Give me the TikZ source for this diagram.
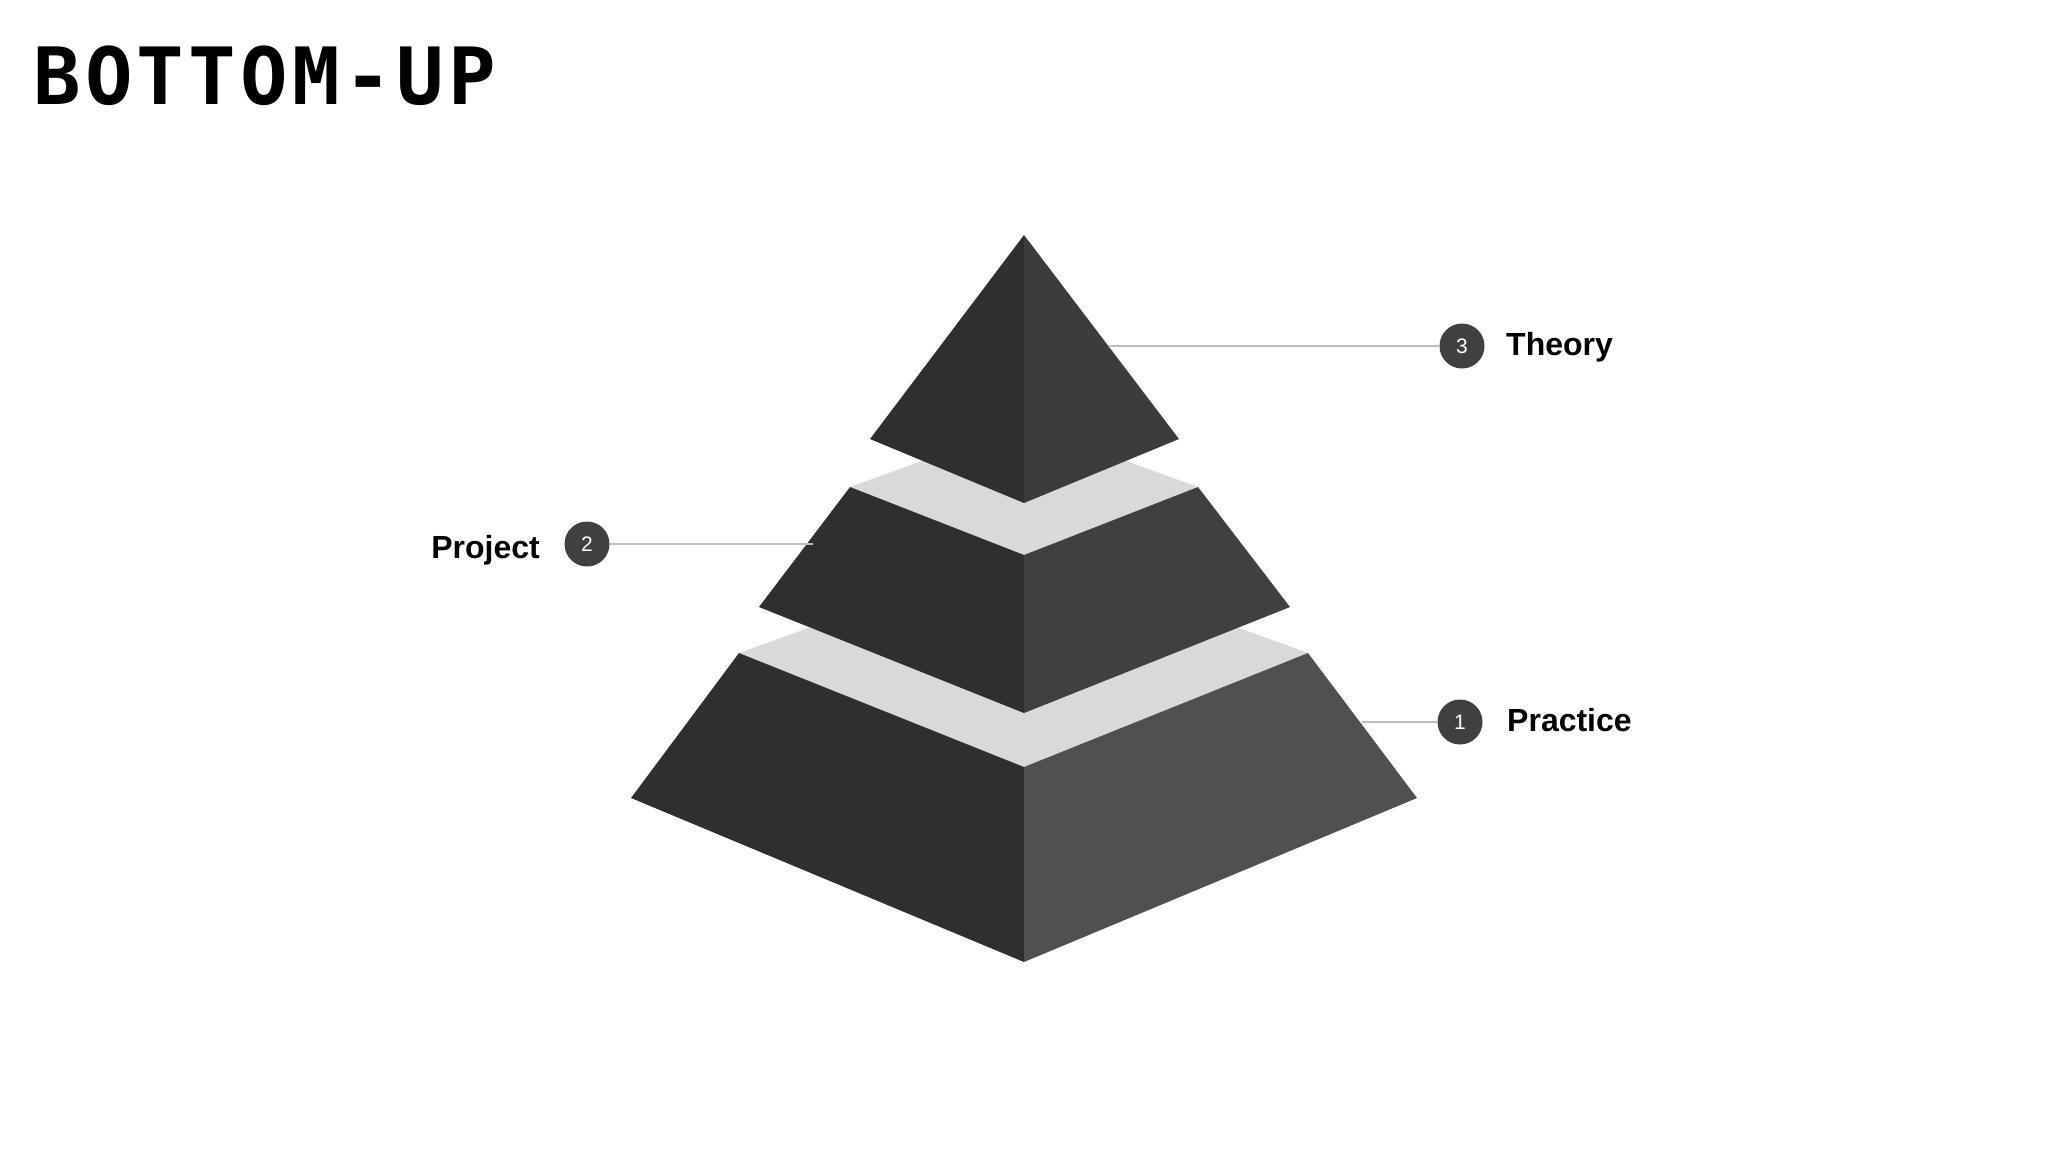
\documentclass[tikz,border=0pt]{standalone}
\usepackage{fontspec}
\setmainfont{Liberation Sans}
\newfontfamily\titlefont[LetterSpace=5.5]{DejaVu Sans Mono}
\usepackage{tikz}
\usetikzlibrary{positioning}

\definecolor{darkface}{HTML}{2F2F2F}
\definecolor{topright}{HTML}{3C3C3C}
\definecolor{midright}{HTML}{404040}
\definecolor{lowright}{HTML}{505050}
\definecolor{band}{HTML}{D9D9D9}
\definecolor{badge}{HTML}{404040}
\definecolor{leader}{HTML}{BDBDBD}

\begin{document}
\begin{tikzpicture}[x=1pt, y=-1pt,
    numdot/.style={circle, fill=badge, text=white, minimum size=45pt, inner sep=0pt,
      font=\fontsize{21}{21}\selectfont},
    tag/.style={font=\fontsize{32}{32}\selectfont\bfseries, inner sep=0pt},
    leadline/.style={draw=leader, line width=2pt}]
      \useasboundingbox (0, 0) rectangle (2048, 1152);
      \node[anchor=base west, inner sep=0pt, font=\fontsize{79}{79}\selectfont\titlefont\bfseries] (title) at (33, 104) {BOTTOM-UP};
      % bottom tier
      \fill[band] (739, 653) -- (1024, 550) -- (1308, 653) -- (1024, 767) -- cycle;
      \fill[darkface] (739, 653) -- (1024, 767) -- (1024, 962) -- (631, 798) -- cycle;
      \fill[lowright] (1024, 767) -- (1308, 653) -- (1417, 798) -- (1024, 962) -- cycle;
      % middle tier
      \fill[band] (850, 487) -- (1024, 424) -- (1198, 487) -- (1024, 555) -- cycle;
      \fill[darkface] (850, 487) -- (1024, 555) -- (1024, 713) -- (759, 607) -- cycle;
      \fill[midright] (1024, 555) -- (1198, 487) -- (1290, 607) -- (1024, 713) -- cycle;
      % top tier
      \fill[darkface] (1024, 235) -- (870, 439) -- (1024, 503) -- cycle;
      \fill[topright] (1024, 235) -- (1024, 503) -- (1179, 439) -- cycle;
      % labels
      \node[numdot] (n3) at (1462, 346) {3};
      \node[numdot] (n2) at (587, 544) {2};
      \node[numdot] (n1) at (1460, 722) {1};
      \node[tag, anchor=base west] (theory) at (1506, 355) {Theory};
      \node[tag, anchor=base east] (project) at (540, 558) {Project};
      \node[tag, anchor=base west] (practice) at (1507, 731) {Practice};
      \coordinate (t3) at (1108, 346);
      \coordinate (t2) at (813, 544);
      \coordinate (t1) at (1362, 722);
      \draw[leadline] (t3) -- (n3);
      \draw[leadline] (n2) -- (t2);
      \draw[leadline] (t1) -- (n1);
    \end{tikzpicture}
\end{document}
